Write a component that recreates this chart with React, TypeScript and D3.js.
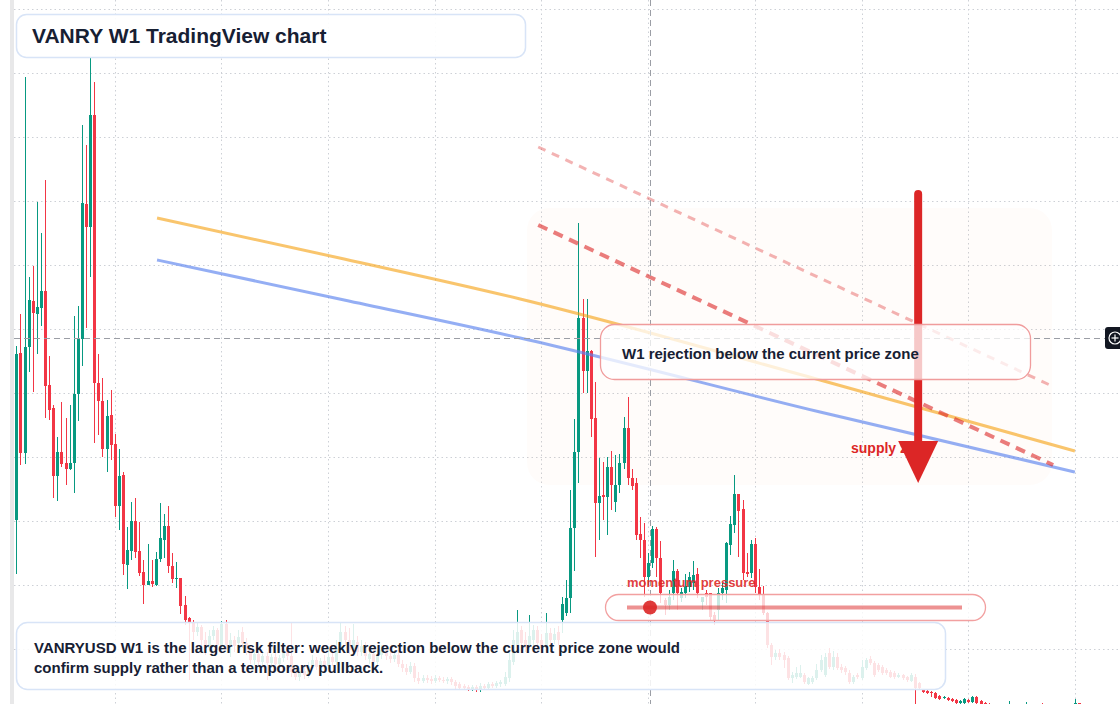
import React from "react";
import { scaleLinear, line, curveMonotoneX } from "d3";

// weekly VANRYUSD candles, oldest first
const opens = [
  0.357, 0.524, 0.424, 0.530, 0.576, 0.563, 0.569, 0.586, 0.492, 0.469,
  0.401, 0.425, 0.414, 0.408, 0.414, 0.483, 0.538, 0.673, 0.650, 0.762,
  0.494, 0.476, 0.428, 0.462, 0.433, 0.371, 0.402, 0.312, 0.326, 0.356,
  0.326, 0.305, 0.292, 0.296, 0.292, 0.318, 0.337, 0.351, 0.311, 0.298,
  0.299, 0.272, 0.259, 0.255, 0.245, 0.250, 0.237, 0.229, 0.241, 0.247,
  0.230, 0.253, 0.232, 0.237, 0.234, 0.245, 0.234, 0.227, 0.217, 0.223,
  0.215, 0.221, 0.214, 0.220, 0.213, 0.219, 0.227, 0.221, 0.205, 0.200,
  0.206, 0.202, 0.211, 0.217, 0.210, 0.216, 0.211, 0.220, 0.215, 0.229,
  0.245, 0.237, 0.227, 0.235, 0.225, 0.231, 0.218, 0.223, 0.215, 0.222,
  0.227, 0.221, 0.218, 0.222, 0.213, 0.209, 0.205, 0.211, 0.199, 0.196,
  0.199, 0.198, 0.196, 0.199, 0.197, 0.196, 0.198, 0.195, 0.193, 0.191,
  0.190, 0.188, 0.190, 0.187, 0.191, 0.189, 0.193, 0.191, 0.193, 0.193,
  0.199, 0.215, 0.232, 0.247, 0.237, 0.232, 0.237, 0.247, 0.237, 0.229,
  0.244, 0.237, 0.245, 0.257, 0.264, 0.279, 0.349, 0.425, 0.559, 0.506,
  0.526, 0.459, 0.374, 0.382, 0.380, 0.410, 0.375, 0.392, 0.414, 0.449,
  0.399, 0.394, 0.343, 0.337, 0.300, 0.314, 0.348, 0.319, 0.277, 0.272,
  0.284, 0.306, 0.279, 0.284, 0.290, 0.294, 0.303, 0.275, 0.284, 0.284,
  0.262, 0.267, 0.284, 0.287, 0.332, 0.352, 0.383, 0.368, 0.305, 0.304,
  0.333, 0.290, 0.282, 0.264, 0.232, 0.220, 0.224, 0.222, 0.219, 0.199,
  0.200, 0.200, 0.202, 0.193, 0.195, 0.199, 0.207, 0.202, 0.224, 0.210,
  0.220, 0.210, 0.209, 0.204, 0.195, 0.202, 0.199, 0.209, 0.218, 0.214,
  0.212, 0.210, 0.207, 0.205, 0.204, 0.200, 0.202, 0.200, 0.196, 0.200,
  0.194, 0.187, 0.186, 0.185, 0.184, 0.181, 0.179, 0.179, 0.178, 0.177,
  0.174, 0.174, 0.177, 0.175, 0.180, 0.176, 0.174, 0.173, 0.172, 0.171,
  0.169, 0.170, 0.169, 0.170, 0.169, 0.167, 0.168, 0.170, 0.167, 0.166,
  0.167, 0.165, 0.164, 0.166, 0.164, 0.163, 0.165, 0.163, 0.171, 0.174,
];
const highs = [
  0.531, 0.563, 0.800, 0.600, 0.611, 0.675, 0.644, 0.697, 0.521, 0.472,
  0.440, 0.475, 0.459, 0.472, 0.561, 0.571, 0.752, 0.732, 0.819, 0.795,
  0.523, 0.499, 0.477, 0.487, 0.443, 0.428, 0.405, 0.350, 0.375, 0.379,
  0.355, 0.317, 0.333, 0.317, 0.325, 0.374, 0.363, 0.371, 0.324, 0.315,
  0.299, 0.281, 0.260, 0.257, 0.255, 0.252, 0.245, 0.247, 0.251, 0.249,
  0.256, 0.257, 0.244, 0.241, 0.247, 0.250, 0.239, 0.232, 0.227, 0.227,
  0.225, 0.225, 0.223, 0.227, 0.222, 0.232, 0.232, 0.255, 0.209, 0.209,
  0.212, 0.215, 0.222, 0.220, 0.219, 0.222, 0.227, 0.225, 0.237, 0.254,
  0.251, 0.249, 0.253, 0.241, 0.237, 0.235, 0.227, 0.227, 0.227, 0.232,
  0.231, 0.225, 0.227, 0.225, 0.217, 0.213, 0.215, 0.214, 0.205, 0.202,
  0.202, 0.201, 0.202, 0.201, 0.200, 0.200, 0.200, 0.197, 0.195, 0.193,
  0.192, 0.192, 0.192, 0.194, 0.193, 0.195, 0.195, 0.196, 0.197, 0.205,
  0.227, 0.247, 0.267, 0.251, 0.245, 0.262, 0.252, 0.251, 0.243, 0.264,
  0.249, 0.249, 0.251, 0.280, 0.297, 0.387, 0.458, 0.654, 0.578, 0.578,
  0.527, 0.495, 0.419, 0.415, 0.420, 0.426, 0.422, 0.423, 0.460, 0.480,
  0.408, 0.399, 0.360, 0.354, 0.324, 0.351, 0.350, 0.336, 0.279, 0.287,
  0.317, 0.308, 0.289, 0.303, 0.305, 0.316, 0.309, 0.280, 0.287, 0.284,
  0.265, 0.289, 0.294, 0.335, 0.361, 0.402, 0.383, 0.377, 0.324, 0.337,
  0.339, 0.308, 0.291, 0.265, 0.234, 0.227, 0.228, 0.225, 0.221, 0.205,
  0.210, 0.212, 0.204, 0.200, 0.201, 0.213, 0.222, 0.224, 0.229, 0.226,
  0.224, 0.213, 0.211, 0.207, 0.202, 0.204, 0.217, 0.219, 0.221, 0.216,
  0.214, 0.212, 0.209, 0.207, 0.206, 0.204, 0.203, 0.201, 0.204, 0.203,
  0.195, 0.188, 0.187, 0.186, 0.185, 0.182, 0.181, 0.180, 0.179, 0.178,
  0.177, 0.179, 0.178, 0.181, 0.181, 0.177, 0.175, 0.174, 0.173, 0.172,
  0.171, 0.171, 0.176, 0.171, 0.170, 0.170, 0.175, 0.171, 0.169, 0.169,
  0.174, 0.167, 0.168, 0.167, 0.166, 0.167, 0.166, 0.165, 0.178, 0.174,
];
const lows = [
  0.303, 0.412, 0.413, 0.505, 0.485, 0.523, 0.551, 0.459, 0.457, 0.379,
  0.376, 0.410, 0.392, 0.407, 0.384, 0.456, 0.511, 0.549, 0.600, 0.434,
  0.442, 0.420, 0.405, 0.417, 0.360, 0.347, 0.302, 0.288, 0.317, 0.319,
  0.301, 0.273, 0.292, 0.290, 0.291, 0.315, 0.319, 0.304, 0.294, 0.289,
  0.263, 0.252, 0.197, 0.237, 0.241, 0.229, 0.222, 0.225, 0.237, 0.227,
  0.227, 0.227, 0.220, 0.225, 0.231, 0.229, 0.222, 0.213, 0.212, 0.210,
  0.211, 0.197, 0.209, 0.209, 0.207, 0.215, 0.217, 0.200, 0.197, 0.196,
  0.198, 0.199, 0.209, 0.207, 0.205, 0.209, 0.208, 0.211, 0.212, 0.225,
  0.231, 0.223, 0.223, 0.221, 0.221, 0.217, 0.213, 0.211, 0.212, 0.218,
  0.217, 0.214, 0.215, 0.210, 0.205, 0.202, 0.203, 0.195, 0.193, 0.194,
  0.194, 0.193, 0.194, 0.195, 0.194, 0.193, 0.192, 0.188, 0.187, 0.187,
  0.186, 0.186, 0.185, 0.185, 0.187, 0.187, 0.189, 0.189, 0.190, 0.191,
  0.195, 0.212, 0.229, 0.227, 0.225, 0.227, 0.231, 0.229, 0.225, 0.225,
  0.232, 0.233, 0.232, 0.244, 0.261, 0.264, 0.306, 0.394, 0.484, 0.484,
  0.440, 0.320, 0.337, 0.357, 0.342, 0.367, 0.365, 0.384, 0.408, 0.392,
  0.387, 0.337, 0.319, 0.280, 0.292, 0.309, 0.300, 0.274, 0.262, 0.267,
  0.277, 0.267, 0.275, 0.279, 0.285, 0.287, 0.279, 0.267, 0.272, 0.257,
  0.252, 0.257, 0.277, 0.274, 0.322, 0.344, 0.320, 0.297, 0.300, 0.299,
  0.284, 0.277, 0.262, 0.229, 0.212, 0.217, 0.217, 0.209, 0.197, 0.194,
  0.198, 0.199, 0.193, 0.192, 0.193, 0.197, 0.205, 0.200, 0.208, 0.207,
  0.207, 0.204, 0.202, 0.193, 0.193, 0.198, 0.197, 0.207, 0.212, 0.200,
  0.205, 0.202, 0.202, 0.199, 0.198, 0.199, 0.197, 0.195, 0.195, 0.157,
  0.187, 0.184, 0.183, 0.180, 0.178, 0.177, 0.178, 0.176, 0.175, 0.173,
  0.173, 0.173, 0.174, 0.174, 0.173, 0.171, 0.170, 0.169, 0.168, 0.167,
  0.167, 0.166, 0.167, 0.166, 0.165, 0.165, 0.166, 0.165, 0.164, 0.164,
  0.163, 0.162, 0.162, 0.162, 0.161, 0.161, 0.161, 0.160, 0.169, 0.169,
];
const closes = [
  0.523, 0.424, 0.530, 0.577, 0.564, 0.570, 0.586, 0.491, 0.467, 0.401,
  0.425, 0.413, 0.408, 0.414, 0.483, 0.539, 0.674, 0.650, 0.762, 0.494,
  0.476, 0.428, 0.461, 0.432, 0.371, 0.401, 0.313, 0.327, 0.356, 0.325,
  0.304, 0.292, 0.296, 0.293, 0.318, 0.339, 0.351, 0.311, 0.298, 0.299,
  0.271, 0.257, 0.255, 0.245, 0.250, 0.237, 0.229, 0.241, 0.247, 0.232,
  0.253, 0.232, 0.237, 0.231, 0.240, 0.234, 0.227, 0.217, 0.223, 0.215,
  0.221, 0.214, 0.220, 0.213, 0.219, 0.227, 0.221, 0.205, 0.200, 0.206,
  0.202, 0.211, 0.217, 0.210, 0.216, 0.211, 0.220, 0.215, 0.229, 0.245,
  0.237, 0.227, 0.237, 0.225, 0.231, 0.221, 0.223, 0.215, 0.222, 0.227,
  0.221, 0.218, 0.222, 0.213, 0.209, 0.205, 0.211, 0.199, 0.196, 0.199,
  0.197, 0.196, 0.199, 0.197, 0.196, 0.198, 0.195, 0.191, 0.189, 0.189,
  0.188, 0.190, 0.188, 0.191, 0.189, 0.193, 0.191, 0.194, 0.195, 0.200,
  0.217, 0.237, 0.245, 0.234, 0.229, 0.241, 0.247, 0.234, 0.229, 0.244,
  0.237, 0.243, 0.237, 0.273, 0.279, 0.349, 0.425, 0.559, 0.506, 0.526,
  0.458, 0.374, 0.381, 0.380, 0.410, 0.392, 0.392, 0.414, 0.449, 0.399,
  0.391, 0.342, 0.337, 0.300, 0.314, 0.348, 0.319, 0.284, 0.272, 0.280,
  0.306, 0.284, 0.285, 0.291, 0.300, 0.302, 0.284, 0.280, 0.280, 0.260,
  0.257, 0.284, 0.289, 0.334, 0.353, 0.383, 0.366, 0.304, 0.303, 0.333,
  0.290, 0.282, 0.264, 0.232, 0.220, 0.224, 0.220, 0.217, 0.199, 0.202,
  0.204, 0.204, 0.195, 0.199, 0.199, 0.207, 0.217, 0.220, 0.210, 0.220,
  0.209, 0.207, 0.205, 0.195, 0.200, 0.200, 0.210, 0.217, 0.214, 0.202,
  0.207, 0.204, 0.204, 0.200, 0.200, 0.202, 0.199, 0.197, 0.202, 0.189,
  0.189, 0.185, 0.184, 0.184, 0.179, 0.178, 0.180, 0.177, 0.176, 0.174,
  0.176, 0.178, 0.175, 0.180, 0.174, 0.173, 0.172, 0.171, 0.170, 0.169,
  0.170, 0.168, 0.171, 0.168, 0.167, 0.168, 0.170, 0.167, 0.166, 0.167,
  0.165, 0.164, 0.166, 0.164, 0.163, 0.165, 0.163, 0.162, 0.174, 0.171,
];

// grid
const gridPrices = [0.868, 0.804, 0.74, 0.676, 0.612, 0.548, 0.484, 0.42, 0.356, 0.292, 0.228, 0.164];
const gridWeeks = [24, 50, 76, 102, 128, 154, 180, 206, 232, 258];

// overlays, [week index, price]
const maFast = [[34.3, 0.659], [79.9, 0.618], [122.8, 0.578], [195.9, 0.497], [258, 0.426]];
const maSlow = [[34.3, 0.617], [79.9, 0.577], [122.8, 0.539], [195.9, 0.465], [258, 0.405]];
const trendMain = [[127.2, 0.652], [252.7, 0.412]];
const trendOuter = [[127.2, 0.73], [252.4, 0.491]];
const zoneWeeks = [124.5, 252.4];
const zonePrices = [0.669, 0.392];
const arrowWeek = 219.8;
const arrowPrices = [0.683, 0.436, 0.394]; // shaft top, head base, tip
const crossWeek = 154.45;
const crossPrice = 0.539;

const GREEN = "#089981";
const RED = "#f23645";
const FONT = "'Liberation Sans', Arial, Helvetica, sans-serif";
const W = 1120;
const H = 704;

export default function App() {
  const x = scaleLinear().domain([0, opens.length - 1]).range([16.3, 1079]);
  const y = scaleLinear().domain([0.164, 0.868]).range([713, 9]);
  const path = line<number[]>()
    .x((d) => x(d[0]))
    .y((d) => y(d[1]))
    .curve(curveMonotoneX);

  const ax = x(arrowWeek);
  const cx = Math.round(x(crossWeek)) + 0.5;
  const cy = Math.round(y(crossPrice)) + 0.5;

  return (
    <div style={{ position: "fixed", left: 0, top: 0, width: W, height: H, background: "#fff" }}>
      <svg width={W} height={H} style={{ display: "block", fontFamily: FONT }}>
        <rect width={W} height={H} fill="#fff" />

        {/* grid */}
        <g stroke="#cdd0d6" strokeWidth={1} strokeDasharray="1.5 3">
          {gridPrices.map((p) => (
            <line key={p} x1={14} x2={W} y1={Math.round(y(p)) + 0.5} y2={Math.round(y(p)) + 0.5} />
          ))}
          {gridWeeks.map((w) => (
            <line key={w} x1={Math.round(x(w)) + 0.5} x2={Math.round(x(w)) + 0.5} y1={0} y2={H} />
          ))}
        </g>
        <rect x={10} y={0} width={4} height={H} fill="#e8e8e9" />

        {/* supply zone */}
        <rect
          x={x(zoneWeeks[0])}
          y={y(zonePrices[0])}
          width={x(zoneWeeks[1]) - x(zoneWeeks[0])}
          height={y(zonePrices[1]) - y(zonePrices[0])}
          rx={22}
          fill="rgba(249,115,22,0.025)"
        />

        {/* candles */}
        <g shapeRendering="crispEdges">
          {opens.map((o, i) => {
            const c = closes[i];
            const col = c >= o ? GREEN : RED;
            const px = Math.round(x(i)) + 0.5;
            const top = y(Math.max(o, c));
            const bot = y(Math.min(o, c));
            return (
              <g key={i}>
                <line x1={px} x2={px} y1={y(highs[i])} y2={y(lows[i])} stroke={col} strokeWidth={1} />
                <rect x={px - 1.5} y={top} width={3} height={Math.max(1, bot - top)} fill={col} />
              </g>
            );
          })}
        </g>

        {/* moving averages */}
        <path d={path(maFast) || ""} fill="none" stroke="#f59e0b" strokeOpacity={0.6} strokeWidth={3} />
        <path d={path(maSlow) || ""} fill="none" stroke="#5b82ee" strokeOpacity={0.65} strokeWidth={3} />

        {/* descending trendlines */}
        <path d={path(trendOuter) || ""} fill="none" stroke="#dc2626" strokeOpacity={0.35} strokeWidth={3} strokeDasharray="8 7" />
        <path d={path(trendMain) || ""} fill="none" stroke="#dc2626" strokeOpacity={0.6} strokeWidth={4} strokeDasharray="10 7" />

        {/* crosshair */}
        <g stroke="#9b9ea5" strokeWidth={1} strokeDasharray="6 4">
          <line x1={cx} x2={cx} y1={0} y2={H} />
          <line x1={14} x2={1105} y1={cy} y2={cy} />
        </g>

        {/* supply label + arrow */}
        <text x={851} y={453} fontSize={14} fontWeight={700} fill="#dc2626">supply zone</text>
        <line x1={ax} x2={ax} y1={y(arrowPrices[0])} y2={y(arrowPrices[1]) + 2} stroke="#dc2626" strokeWidth={8} strokeLinecap="round" />
        <polygon
          points={`${ax - 20},${y(arrowPrices[1])} ${ax + 20},${y(arrowPrices[1])} ${ax},${y(arrowPrices[2])}`}
          fill="#dc2626"
        />

        {/* callout */}
        <rect x={600.5} y={324.5} width={430} height={55} rx={14} fill="rgba(255,255,255,0.75)" stroke="#f09c9c" strokeWidth={1.3} />
        <text x={622} y={359} fontSize={15} fontWeight={700} fill="#172033">W1 rejection below the current price zone</text>

        {/* momentum pressure */}
        <text x={627} y={587} fontSize={13} fontWeight={700} fill="#dc2626" fillOpacity={0.9}>momentum pressure</text>
        <rect x={605.5} y={594.5} width={380} height={26} rx={13} fill="rgba(255,255,255,0.78)" stroke="#f2a0a0" strokeWidth={1.3} />
        <line x1={627} x2={962} y1={607.5} y2={607.5} stroke="#dc2626" strokeOpacity={0.5} strokeWidth={4} />
        <circle cx={650} cy={607.5} r={7} fill="#dc2626" fillOpacity={0.9} />

        {/* title */}
        <rect x={16.5} y={14.5} width={509} height={43} rx={10} fill="rgba(255,255,255,0.92)" stroke="#d8e4f7" strokeWidth={1.5} />
        <text x={32} y={43} fontSize={21} fontWeight={700} fill="#172033">VANRY W1 TradingView chart</text>

        {/* summary note */}
        <rect x={16.5} y={622.5} width={929} height={67} rx={11} fill="rgba(255,255,255,0.86)" stroke="#d8e4f7" strokeWidth={1.5} />
        <text x={34} y={653} fontSize={15} fontWeight={700} fill="#172033">
          VANRYUSD W1 is the larger risk filter: weekly rejection below the current price zone would
        </text>
        <text x={34} y={673} fontSize={15} fontWeight={700} fill="#172033">
          confirm supply rather than a temporary pullback.
        </text>

        {/* crosshair handle */}
        <rect x={1105} y={327} width={20} height={22} rx={3} fill="#131722" />
        <circle cx={1115} cy={338} r={6} fill="none" stroke="#fff" strokeWidth={1.2} />
        <line x1={1111.5} x2={1118.5} y1={338} y2={338} stroke="#fff" strokeWidth={1.2} />
        <line x1={1115} x2={1115} y1={334.5} y2={341.5} stroke="#fff" strokeWidth={1.2} />
      </svg>
    </div>
  );
}
